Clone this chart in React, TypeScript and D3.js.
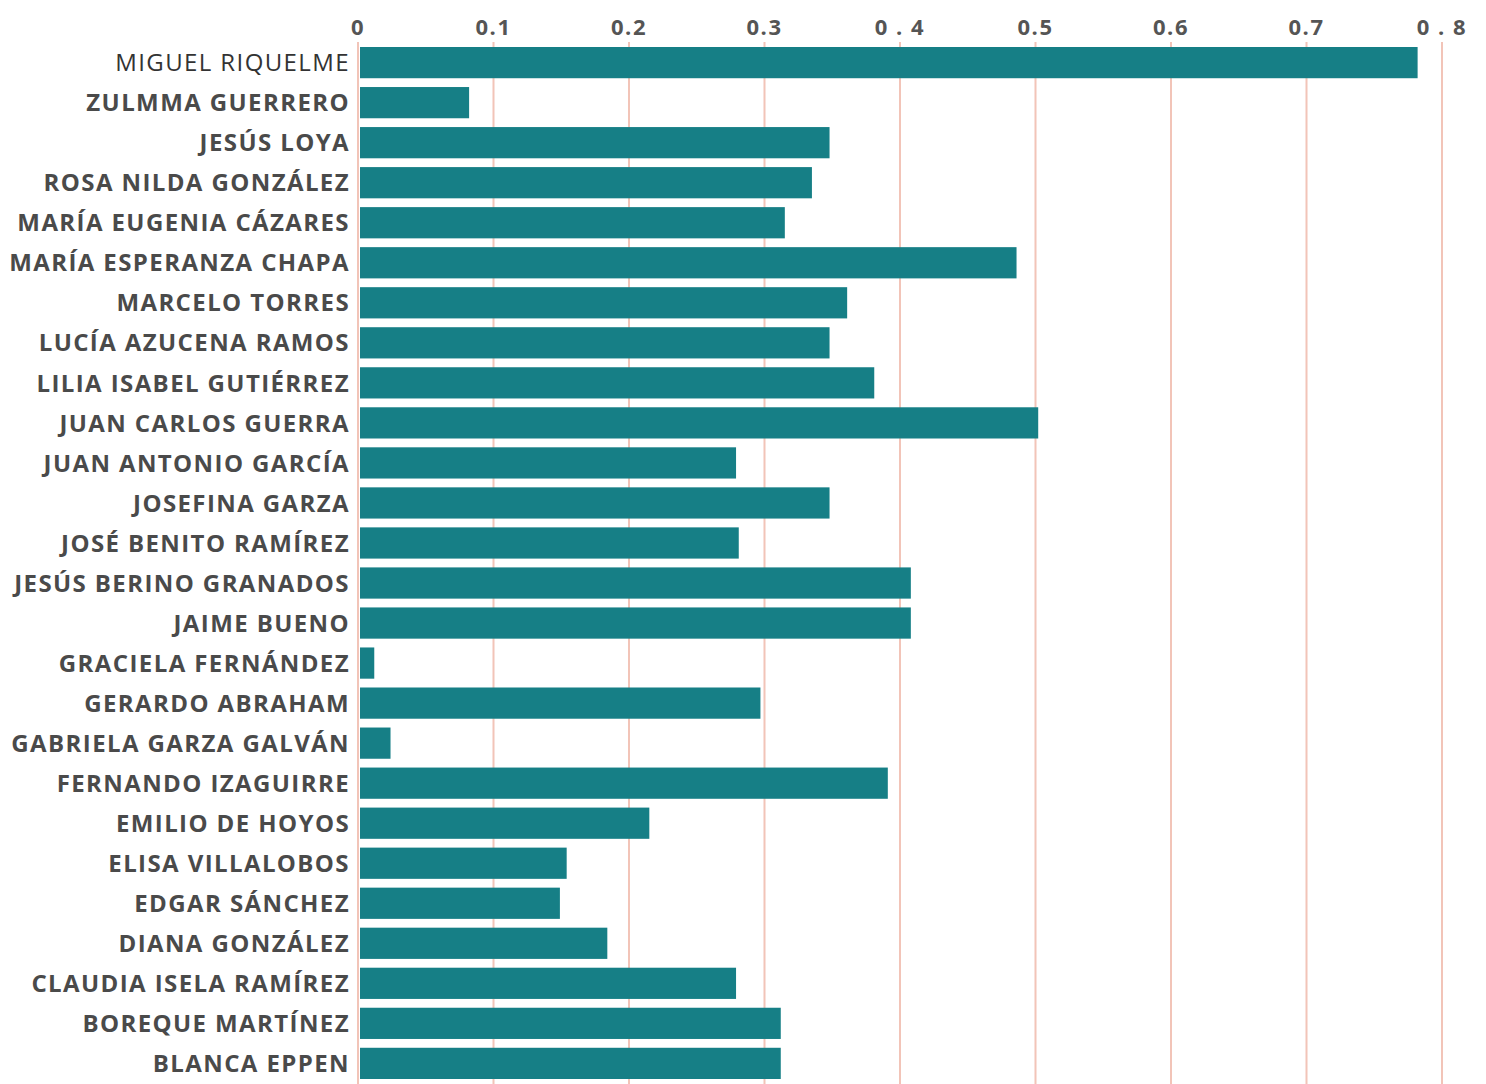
import React from "react";
import * as d3 from "d3";

const names = [
  "MIGUEL RIQUELME",
  "ZULMMA GUERRERO",
  "JESÚS LOYA",
  "ROSA NILDA GONZÁLEZ",
  "MARÍA EUGENIA CÁZARES",
  "MARÍA ESPERANZA CHAPA",
  "MARCELO TORRES",
  "LUCÍA AZUCENA RAMOS",
  "LILIA ISABEL GUTIÉRREZ",
  "JUAN CARLOS GUERRA",
  "JUAN ANTONIO GARCÍA",
  "JOSEFINA GARZA",
  "JOSÉ BENITO RAMÍREZ",
  "JESÚS BERINO GRANADOS",
  "JAIME BUENO",
  "GRACIELA FERNÁNDEZ",
  "GERARDO ABRAHAM",
  "GABRIELA GARZA GALVÁN",
  "FERNANDO IZAGUIRRE",
  "EMILIO DE HOYOS",
  "ELISA VILLALOBOS",
  "EDGAR SÁNCHEZ",
  "DIANA GONZÁLEZ",
  "CLAUDIA ISELA RAMÍREZ",
  "BOREQUE MARTÍNEZ",
  "BLANCA EPPEN",
];

const values = [
  0.782, 0.082, 0.348, 0.335, 0.315, 0.486, 0.361, 0.348, 0.381, 0.502,
  0.279, 0.348, 0.281, 0.408, 0.408, 0.012, 0.297, 0.024, 0.391, 0.215,
  0.154, 0.149, 0.184, 0.279, 0.312, 0.312,
];

const tickValues = [0, 0.1, 0.2, 0.3, 0.4, 0.5, 0.6, 0.7, 0.8];
const tickLabels = ["0", "0.1", "0.2", "0.3", "0 . 4", "0.5", "0.6", "0.7", "0 . 8"];

const W = 1486;
const H = 1084;

export default function App() {
  const x = d3.scaleLinear().domain([0, 0.8]).range([358, 1442]);
  const y = d3
    .scaleBand<string>()
    .domain(names)
    .range([43, 1083])
    .paddingInner(0.22)
    .paddingOuter(0.1);

  return (
    <svg
      width={W}
      height={H}
      style={{ position: "absolute", left: 0, top: 0, background: "#fff" }}
    >
      {tickValues.map((t, i) => (
        <g key={"t" + i}>
          <line
            x1={x(t)}
            x2={x(t)}
            y1={42}
            y2={H}
            stroke="#f2c4b8"
            strokeWidth={2}
          />
          <text
            x={x(t)}
            y={27}
            dy="0.35em"
            textAnchor="middle"
            fontFamily="'Open Sans', sans-serif"
            fontWeight={700}
            fontSize={22}
            letterSpacing={1.5}
            fill="#555"
          >
            {tickLabels[i]}
          </text>
        </g>
      ))}
      {names.map((n, i) => (
        <rect
          key={"b" + i}
          x={x(0) + 2}
          y={y(n)}
          width={x(values[i]) - x(0) - 2}
          height={y.bandwidth()}
          fill="#167f86"
        />
      ))}
      {names.map((n, i) => (
        <text
          key={"l" + i}
          x={350}
          y={(y(n) as number) + y.bandwidth() / 2}
          dy="0.36em"
          textAnchor="end"
          fontFamily="'Open Sans', sans-serif"
          fontWeight={i === 0 ? 500 : 700}
          fontSize={24}
          letterSpacing={1.4}
          fill={i === 0 ? "#333" : "#4a4a4a"}
        >
          {n}
        </text>
      ))}
    </svg>
  );
}
